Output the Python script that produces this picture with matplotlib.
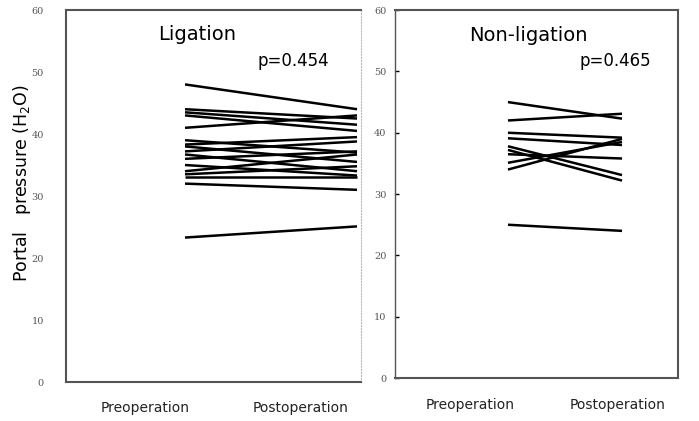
import matplotlib
matplotlib.use("Agg")
import matplotlib.pyplot as plt

# portal pressure values (pre, post) per patient
lig_pre = [48, 44, 43.5, 43, 41, 39, 38.3, 38, 37.2, 36.7, 36, 35, 34, 33.5, 33, 32, 23.3]
lig_post = [44, 42.5, 41.5, 40.5, 43, 37, 39.5, 35.5, 38.8, 34, 37.2, 33.3, 36.7, 34.8, 33, 31, 25.1]
non_pre = [45, 42, 40, 39.1, 37.8, 37.2, 36.5, 35.1, 34.0, 25.0]
non_post = [42.3, 43.1, 39.2, 38.0, 33.1, 32.2, 35.8, 38.5, 39.0, 24.0]

yticks = [0, 10, 20, 30, 40, 50, 60]
xlabels = ["Preoperation", "Postoperation"]
titles = ["Ligation", "Non-ligation"]
pvals = ["p=0.454", "p=0.465"]

fig = plt.figure(figsize=(6.99, 4.21), dpi=100)
ax1 = fig.add_axes([0.0944, 0.0926, 0.422, 0.8836])
ax2 = fig.add_axes([0.565, 0.102, 0.405, 0.874])

def draw(ax, pre, post, xlim, labpos, title, pval, tpos, ppos):
    for a, b in zip(pre, post):
        ax.plot([0, 1], [a, b], color="black", lw=1.8, solid_capstyle="butt")
    ax.set_xlim(*xlim)
    ax.set_ylim(0, 60)
    ax.set_yticks(yticks)
    ax.set_yticklabels([str(t) for t in yticks], fontsize=7, color="#555555",
                       family="DejaVu Serif")
    ax.set_xticks(labpos)
    ax.set_xticklabels(xlabels, fontsize=10, color="#222222")
    ax.tick_params(axis="x", length=0, pad=14)
    for s in ax.spines.values():
        s.set_color("#555555")
        s.set_linewidth(1.5)
    ax.text(tpos[0], tpos[1], title, transform=ax.transAxes, fontsize=14,
            ha="center", va="center")
    ax.text(ppos[0], ppos[1], pval, transform=ax.transAxes, fontsize=12,
            ha="center", va="center")

draw(ax1, lig_pre, lig_post, (-0.692, 1.023), [-0.233, 0.669],
     titles[0], pvals[0], (0.444, 0.935), (0.77, 0.862))
draw(ax2, non_pre, non_post, (-0.991, 1.491), [-0.333, 0.965],
     titles[1], pvals[1], (0.47, 0.93), (0.78, 0.862))

ax1.tick_params(axis="y", length=0, pad=16)
ax1.spines["right"].set_linestyle(":")
ax1.spines["right"].set_linewidth(0.8)
ax1.spines["right"].set_color("#bbbbbb")
ax1.set_ylabel("Portal   pressure (H$_2$O)", fontsize=12.5)
ax1.yaxis.set_label_coords(-0.112, 0.535)

ax2.tick_params(axis="y", direction="in", length=3, width=1, pad=6)
ax2.spines["left"].set_linewidth(1.0)

fig.savefig("out.png", dpi=100)
